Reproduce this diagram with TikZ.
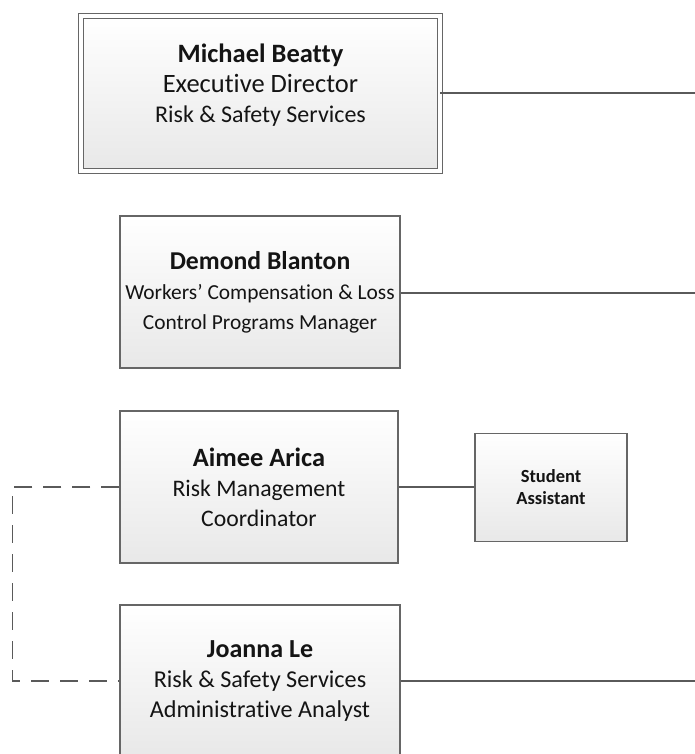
\documentclass[tikz,border=0pt]{standalone}
\usepackage{fontspec}
\setmainfont{Carlito}[Ligatures=NoCommon]
\usepackage{tikz}

\definecolor{boxline}{HTML}{666666}
\definecolor{linkline}{HTML}{5A5A5A}

\newcommand\pname[2][26]{{\fontsize{#1}{30}\selectfont\bfseries #2}}
\newcommand\ptitle[2][24]{{\fontsize{#1}{30}\selectfont #2}}

\begin{document}
\begin{tikzpicture}[x=1pt,y=1pt,
  box/.style={draw=boxline, line width=1.4pt, top color=white, bottom color=black!9,
    align=center, inner sep=0pt, text=black!92, font=\fontsize{24}{30}\selectfont},
  link/.style={draw=linkline, line width=1.2pt},
  dotted link/.style={draw=linkline, line width=1.2pt, dash pattern=on 18pt off 11pt}]

\useasboundingbox (0,0) rectangle (695,-754);

\node[box, double, double distance=3.8pt, line width=1.3pt, minimum width=358.6, minimum height=154.6]
  (beatty) at (260.5,-93.5)
  {\pname[26.5]{Michael Beatty}\\
   \ptitle[26.5]{Executive Director}\\
   \ptitle{Risk \& Safety Services}\\[-10pt]
   \mbox{}};
\node[box, minimum width=280, minimum height=152] (blanton) at (260,-292)
  {\pname[25.7]{Demond Blanton}\\
   \ptitle[21.4]{Workers’ Compensation \& Loss}\\
   \ptitle[21.4]{Control Programs Manager}};
\node[box, minimum width=278, minimum height=152] (arica) at (259,-487)
  {\pname[26.4]{Aimee Arica}\\
   \ptitle[23.7]{Risk Management}\\
   \ptitle[23.7]{Coordinator}};
\node[box, minimum width=152, minimum height=108, font=\fontsize{18.5}{22}\selectfont\bfseries]
  (student) at (551,-487.5) {Student\\ Assistant};
\node[box, minimum width=280, minimum height=152] (le) at (260,-681)
  {\pname{Joanna Le}\\
   \ptitle[24.2]{Risk \& Safety Services}\\
   \ptitle[24.2]{Administrative Analyst}};

\coordinate (edgeA) at (695,-93);
\coordinate (edgeB) at (695,-293);
\coordinate (edgeC) at (695,-681);
\coordinate (bendA) at (12.7,-487);
\coordinate (bendB) at (12.7,-681);

\draw[link] (beatty.east |- edgeA) -- (edgeA);
\draw[link] (blanton.east |- edgeB) -- (edgeB);
\draw[link] (arica.east) -- (student.west |- arica.east);
\draw[link] (le.east) -- (edgeC);
\draw[dotted link] (arica.west) -- (bendA) -- (bendB) -- (le.west);

\end{tikzpicture}
\end{document}
